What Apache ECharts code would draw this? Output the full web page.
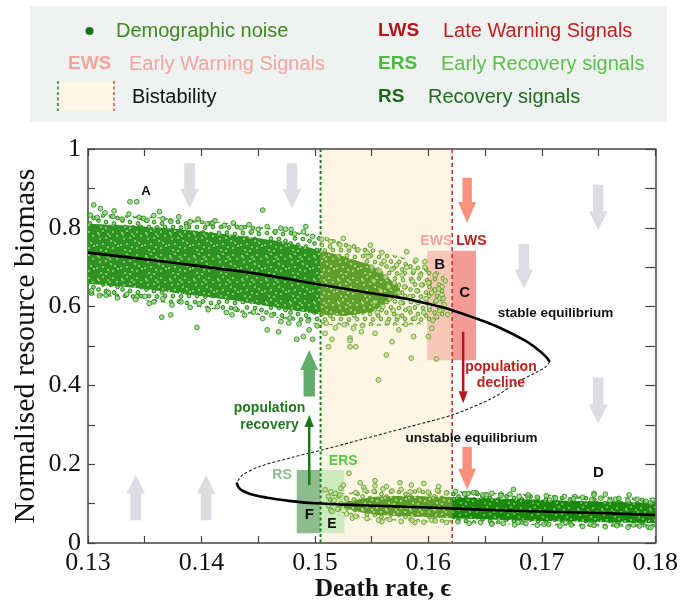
<!DOCTYPE html>
<html><head><meta charset="utf-8">
<script src="https://cdn.jsdelivr.net/npm/echarts@6/dist/echarts.min.js"></script>
<style>html,body{margin:0;padding:0;background:#fff}#c{width:681px;height:612px}</style>
</head><body><div id="c"></div>
<script>
// ---------- data ----------
const xTicks = [0.13, 0.14, 0.15, 0.16, 0.17, 0.18];
const yTicks = [0, 0.2, 0.4, 0.6, 0.8, 1];
const bistability = [0.1505, 0.1621];

const upperStable = [[0.1300,0.737],[0.1350,0.720],[0.1400,0.702],[0.1450,0.683],[0.1500,0.658],[0.1550,0.634],[0.1580,0.620],[0.1600,0.607],[0.1621,0.591],[0.1640,0.572],[0.1660,0.550],[0.1685,0.514],[0.1697,0.490],[0.1704,0.472],[0.1707,0.460]];
const unstableBranch = [[0.1707,0.460],[0.1703,0.446],[0.1695,0.433],[0.1679,0.409],[0.1656,0.367],[0.1621,0.325],[0.1583,0.295],[0.1539,0.261],[0.1506,0.236],[0.1480,0.2175],[0.1451,0.194],[0.1436,0.172],[0.1431,0.153]];
const lowerStable = [[0.1431,0.153],[0.1433,0.140],[0.1438,0.130],[0.1447,0.121],[0.1460,0.114],[0.1477,0.107],[0.1500,0.101],[0.1540,0.096],[0.1580,0.092],[0.1621,0.088],[0.1660,0.083],[0.1700,0.080],[0.1750,0.076],[0.1800,0.071]];

// dense core and looser halo of the noise clouds (envelopes)
const upperCoreX   = [0.1300,0.1340,0.1385,0.1430,0.1470,0.1505,0.1525,0.1550,0.1575];
const upperCoreTop = [0.810, 0.805, 0.796, 0.781, 0.766, 0.743, 0.728, 0.705, 0.650];
const upperCoreBot = [0.658, 0.648, 0.632, 0.615, 0.595, 0.580, 0.576, 0.585, 0.630];
const upperHaloX   = [0.1300,0.1350,0.1400,0.1450,0.1505,0.1550,0.1590,0.1614];
const upperHaloTop = [0.836, 0.829, 0.819, 0.804, 0.780, 0.748, 0.715, 0.680];
const upperHaloBot = [0.630, 0.616, 0.598, 0.578, 0.554, 0.550, 0.554, 0.572];
const lowerCoreX   = [0.1522,0.1540,0.1555,0.1580,0.1621,0.1660,0.1700,0.1750,0.1800];
const lowerCoreTop = [0.100, 0.112, 0.118, 0.120, 0.117, 0.113, 0.110, 0.105, 0.102];
const lowerCoreBot = [0.092, 0.078, 0.071, 0.068, 0.063, 0.059, 0.056, 0.053, 0.050];
const lowerHaloX   = [0.1510,0.1535,0.1550,0.1580,0.1621,0.1660,0.1700,0.1750,0.1800];
const lowerHaloTop = [0.120, 0.130, 0.136, 0.137, 0.133, 0.127, 0.123, 0.118, 0.114];
const lowerHaloBot = [0.088, 0.068, 0.059, 0.055, 0.051, 0.048, 0.045, 0.042, 0.040];

// individual noise points
const upperNoise = [
[0.1305,0.858],[0.1311,0.849],[0.1323,0.843],[0.1337,0.866],[0.1343,0.866],[0.1363,0.841],[0.1454,0.845],[0.1349,0.824],[0.1410,0.813],[0.1387,0.803],[0.1470,0.799],[0.1479,0.796],[0.1492,0.803],[0.1444,0.790],[0.1525,0.773],[0.1549,0.756],
[0.1302,0.832],[0.1308,0.826],[0.1315,0.838],[0.1322,0.829],[0.1330,0.822],[0.1336,0.835],[0.1345,0.827],[0.1352,0.819],[0.1358,0.831],[0.1366,0.823],[0.1373,0.816],[0.1380,0.828],[0.1390,0.815],[0.1397,0.822],[0.1405,0.810],[0.1412,0.818],[0.1420,0.806],[0.1428,0.812],[0.1435,0.800],[0.1442,0.808],[0.1450,0.796],[0.1458,0.803],[0.1465,0.790],[0.1474,0.796],[0.1482,0.784],[0.1490,0.790],[0.1498,0.778],[0.1506,0.771],[0.1514,0.765],[0.1522,0.757],[0.1530,0.750],[0.1538,0.744],[0.1546,0.737],
[0.1303,0.634],[0.1316,0.629],[0.1343,0.625],[0.1365,0.573],[0.1373,0.579],[0.1396,0.547],[0.1354,0.608],[0.1427,0.579],[0.1458,0.541],[0.1468,0.536],[0.1484,0.517],[0.1490,0.524],[0.1498,0.517],[0.1477,0.558],[0.1495,0.541],[0.1509,0.532],[0.1515,0.517],[0.1531,0.520],[0.1531,0.514],[0.1541,0.536],
[0.1303,0.640],[0.1310,0.628],[0.1318,0.636],[0.1326,0.622],[0.1334,0.631],[0.1342,0.618],[0.1350,0.626],[0.1358,0.612],[0.1366,0.620],[0.1374,0.604],[0.1382,0.612],[0.1390,0.598],[0.1398,0.607],[0.1406,0.592],[0.1414,0.600],[0.1422,0.585],[0.1430,0.594],[0.1438,0.578],[0.1446,0.586],[0.1454,0.570],[0.1462,0.578],[0.1470,0.562],[0.1478,0.571],[0.1486,0.556],[0.1494,0.564],[0.1502,0.551],[0.1510,0.558],[0.1518,0.546],[0.1526,0.554],[0.1534,0.545],[0.1542,0.552],
[0.1581,0.739],[0.1559,0.737],[0.1597,0.714],[0.1589,0.718],[0.1547,0.727],[0.1601,0.661],[0.1606,0.642],[0.1612,0.650],[0.1610,0.621],[0.1613,0.621],[0.1612,0.591],[0.1607,0.574],[0.1603,0.545],[0.1600,0.524],[0.1587,0.524],[0.1585,0.469],[0.1563,0.477],[0.1531,0.498],[0.1512,0.498],[0.1536,0.498],[0.1574,0.541],[0.1568,0.511],[0.1553,0.532],[0.1556,0.414],[0.1607,0.467],
[0.1550,0.700],[0.1552,0.665],[0.1553,0.612],[0.1555,0.585],[0.1557,0.690],[0.1558,0.640],[0.1560,0.600],[0.1561,0.715],[0.1562,0.675],[0.1564,0.560],[0.1565,0.650],[0.1566,0.620],[0.1568,0.695],[0.1569,0.590],[0.1570,0.660],[0.1572,0.705],[0.1573,0.575],[0.1574,0.635],[0.1576,0.610],[0.1577,0.680],[0.1579,0.650],[0.1580,0.555],[0.1581,0.700],[0.1583,0.595],[0.1584,0.625],[0.1586,0.665],[0.1587,0.690],[0.1588,0.570],[0.1590,0.640],[0.1591,0.610],[0.1593,0.680],[0.1594,0.655],[0.1596,0.585],[0.1597,0.700],[0.1598,0.620],[0.1600,0.660],[0.1601,0.600],[0.1603,0.635],[0.1604,0.565],[0.1606,0.680],[0.1607,0.615],[0.1609,0.645],[0.1610,0.590],[0.1612,0.630],[0.1614,0.605],[0.1615,0.665],[0.1617,0.580]
];
const lowerNoise = [
[0.1530,0.177],[0.1514,0.130],[0.1518,0.126],[0.1509,0.135],[0.1523,0.139],[0.1525,0.147],[0.1540,0.153],[0.1553,0.158],[0.1553,0.145],[0.1543,0.141],[0.1575,0.153],[0.1585,0.147],[0.1596,0.151],[0.1609,0.143],[0.1563,0.143],
[0.1514,0.084],[0.1515,0.080],[0.1521,0.088],[0.1533,0.063],[0.1559,0.054],[0.1588,0.052],[0.1603,0.058],[0.1635,0.126],[0.1642,0.128],
[0.1675,0.136],[0.1664,0.124],[0.1746,0.126],[0.1746,0.122],[0.1756,0.124],[0.1777,0.122],[0.1729,0.118],[0.1688,0.116],[0.1765,0.111],[0.1651,0.122],[0.1707,0.109],[0.1796,0.102],
[0.1656,0.050],[0.1679,0.052],[0.1702,0.048],[0.1721,0.052],[0.1743,0.047],[0.1764,0.048],[0.1781,0.046],[0.1794,0.040],
[0.1512,0.118],[0.1517,0.108],[0.1522,0.122],[0.1528,0.112],[0.1536,0.128],[0.1544,0.134],[0.1552,0.131],[0.1560,0.137],[0.1568,0.132],[0.1576,0.136],[0.1584,0.130],[0.1592,0.134],[0.1600,0.129],[0.1608,0.133],[0.1616,0.127],[0.1624,0.131],[0.1632,0.125],[0.1640,0.128],[0.1648,0.122],[0.1656,0.126],[0.1664,0.120],[0.1672,0.124],[0.1680,0.118],[0.1688,0.122],[0.1696,0.116],[0.1704,0.120],[0.1712,0.114],[0.1720,0.118],[0.1728,0.112],[0.1736,0.116],[0.1744,0.110],[0.1752,0.114],[0.1760,0.108],[0.1768,0.113],[0.1776,0.107],[0.1784,0.111],[0.1792,0.106],[0.1798,0.109],
[0.1512,0.095],[0.1520,0.086],[0.1528,0.074],[0.1536,0.068],[0.1546,0.062],[0.1556,0.058],[0.1566,0.060],[0.1576,0.055],[0.1586,0.057],[0.1596,0.053],[0.1606,0.056],[0.1616,0.052],[0.1626,0.054],[0.1636,0.050],[0.1646,0.052],[0.1656,0.048],[0.1666,0.050],[0.1676,0.046],[0.1686,0.049],[0.1696,0.045],[0.1706,0.047],[0.1716,0.043],[0.1726,0.046],[0.1736,0.042],[0.1746,0.045],[0.1756,0.041],[0.1766,0.044],[0.1776,0.040],[0.1786,0.043],[0.1796,0.039]
];

// signal boxes [x0, x1, y0, y1]: EWS, LWS, RS, ERS
const signalBoxes = [[0.1599,0.1621,0.464,0.742],[0.1621,0.1642,0.464,0.742],[0.1484,0.1505,0.025,0.185],[0.1505,0.1526,0.025,0.185]];

// arrows [x, yTail, yTip]
const greyArrows = [[0.13895,0.964,0.850],[0.14798,0.964,0.850],[0.17497,0.909,0.794],[0.16842,0.759,0.646],[0.17497,0.420,0.303],[0.13421,0.058,0.173],[0.14041,0.058,0.173]];
const salmonArrows = [[0.16342,0.927,0.812],[0.16342,0.244,0.135]];
const greenBlockArrows = [[0.1495,0.372,0.490]];
const declineArrow = [[0.16307,0.536,0.355]];
const recoveryArrow = [[0.14950,0.147,0.325]];

// annotation text
const annoText = ['A','B','C','D','E','F','EWS','LWS','RS','ERS','stable equilibrium','unstable equilibrium','population','decline','population','recovery'];
const annoPos = [[0.1351,0.893],[0.1610,0.706],[0.1632,0.634],[0.1750,0.178],[0.1515,0.048],[0.1495,0.071],[0.1607,0.767],[0.1638,0.767],[0.1471,0.173],[0.1525,0.208],[0.1712,0.584],[0.1638,0.266],[0.1664,0.447],[0.1664,0.406],[0.1460,0.343],[0.1460,0.300]];

// ---------- styles ----------
const annoColor = ['#111','#111','#111','#111','#111','#111','#f5a39d','#c0201a','#8dbd8d','#56c845','#111','#111','#c0201a','#c0201a','#1e7a1e','#1e7a1e'];
const annoSize = [13,15,15,15,14,15,14,14,14,14,13.5,13.5,14,14,14,14];
const boxColors = ['#f8c7b7','#f29c95','#8fbc8f','#cdeabe'];
const SANS = '"Liberation Sans", Arial, Helvetica, sans-serif';
const SERIF = '"Liberation Serif", "Times New Roman", serif';

// textures used to fill the cloud bands
const speck = [[2,3],[7,1],[12,4],[17,2],[21,6],[4,9],[10,8],[15,11],[19,13],[1,15],[7,14],[12,17],[17,18],[22,16],[5,20],[10,21],[3,4.5],[14,6]];
const rings = [[3,3],[11,2.5],[19,4],[7,8.5],[15,9],[21.5,11],[2.5,13.5],[10,15],[18,16.5],[5,20],[13,20.5],[21,20]];
function makeSpeckle(bg, dot){
  const c = document.createElement('canvas'); c.width = 24; c.height = 23;
  const g = c.getContext('2d'); g.fillStyle = bg; g.fillRect(0,0,24,23);
  g.fillStyle = dot;
  speck.forEach(p => { g.beginPath(); g.arc(p[0], p[1], 1.0, 0, Math.PI*2); g.fill(); });
  return {image:c, repeat:'repeat'};
}
function makeRings(fill, stroke){
  const c = document.createElement('canvas'); c.width = 24; c.height = 23;
  const g = c.getContext('2d');
  g.fillStyle = fill; g.strokeStyle = stroke; g.lineWidth = 1;
  rings.forEach(p => { g.beginPath(); g.arc(p[0], p[1], 1.9, 0, Math.PI*2); g.fill(); g.stroke(); });
  return {image:c, repeat:'repeat'};
}
const patUpper = makeSpeckle('#2f9322', '#9fd58e');
const patBist  = makeSpeckle('#5e9f2c', '#c6dea0');
const patLower = makeSpeckle('#1b8a0c', '#86c777');
const ringUpper = makeRings('#93cd80', '#1f8a10');
const ringBist  = makeRings('#c0da98', '#5c9c22');
const ringLower = makeRings('#86c777', '#1b850c');

const chart = echarts.init(document.getElementById('c'), null, {renderer:'canvas'});
function inBist(x){ return x >= bistability[0]-1e-9 && x <= bistability[1]+1e-9; }

function bandSeries(xs, top, bot, patOut, patIn, z){
  const cuts = [0];
  xs.forEach((x,i)=>{ if (i>0 && i<xs.length-1 && bistability.some(b=>Math.abs(b-x)<1e-7)) cuts.push(i); });
  cuts.push(xs.length-1);
  return {
    type:'custom', z:z, silent:true, data:[[xs[0], top[0]]],
    renderItem:function(params, api){
      const children = [];
      for (let s=0; s<cuts.length-1; s++){
        const i0=cuts[s], i1=cuts[s+1];
        const pts=[];
        for (let i=i0;i<=i1;i++) pts.push(api.coord([xs[i], top[i]]));
        for (let i=i1;i>=i0;i--) pts.push(api.coord([xs[i], bot[i]]));
        const mid=(xs[i0]+xs[i1])/2;
        children.push({type:'polygon', shape:{points:pts}, style:{fill: inBist(mid)?patIn:patOut}});
      }
      return {type:'group', children:children};
    }
  };
}

function blockArrowSeries(list, color, sw, hw, hl, z){
  return {
    type:'custom', z:z, silent:true, data:list, encode:{x:0, y:[1,2]},
    renderItem:function(params, api){
      const T = api.coord([api.value(0), api.value(1)]);
      const P = api.coord([api.value(0), api.value(2)]);
      const dir = P[1] > T[1] ? 1 : -1;
      const yb = P[1] - dir*hl;
      return {type:'polygon', shape:{points:[[T[0]-sw,T[1]],[T[0]+sw,T[1]],[T[0]+sw,yb],[T[0]+hw,yb],[P[0],P[1]],[T[0]-hw,yb],[T[0]-sw,yb]]},
        style:{fill:color}};
    }
  };
}
function lineArrowSeries(list, color, lw, hw, hl, z){
  return {
    type:'custom', z:z, silent:true, data:list, encode:{x:0, y:[1,2]},
    renderItem:function(params, api){
      const T = api.coord([api.value(0), api.value(1)]);
      const P = api.coord([api.value(0), api.value(2)]);
      const dir = P[1] > T[1] ? 1 : -1;
      const yb = P[1] - dir*hl;
      return {type:'group', children:[
        {type:'line', shape:{x1:T[0],y1:T[1],x2:T[0],y2:yb}, style:{stroke:color, lineWidth:lw}},
        {type:'polygon', shape:{points:[[P[0]-hw,yb],[P[0]+hw,yb],[P[0],P[1]]]}, style:{fill:color}}
      ]};
    }
  };
}

function noiseData(list){
  return list.map(p => ({value:p, itemStyle: inBist(p[0]) ?
     {color:'#c0da98', borderColor:'#5c9c22', borderWidth:1} :
     {color:'#93cd80', borderColor:'#1f8a10', borderWidth:1}}));
}

const fmtX = v => { const t = xTicks.find(t => Math.abs(t-v) < 1e-7); return t === undefined ? '' : t.toFixed(2); };
const fmtY = v => { const t = yTicks.find(t => Math.abs(t-v) < 1e-7); return t === undefined ? '' : (t===0?'0':t===1?'1':t.toFixed(1)); };

const axisCol = '#444';
const option = {
  animation:false,
  backgroundColor:'#fff',
  grid:{left:88, right:24, top:149, bottom:69},
  xAxis:[
    {type:'value', min:0.13, max:0.18, interval:0.005, position:'bottom',
     axisLine:{show:true, onZero:false, lineStyle:{color:axisCol, width:1.5}},
     axisTick:{show:true, inside:true, length:7, lineStyle:{color:axisCol, width:1.2}},
     axisLabel:{formatter:fmtX, fontFamily:SERIF, fontSize:26, color:'#111', margin:7, showMinLabel:true, showMaxLabel:true},
     splitLine:{show:false}},
    {type:'value', min:0.13, max:0.18, interval:0.005, position:'top',
     axisLine:{show:true, onZero:false, lineStyle:{color:axisCol, width:1.5}},
     axisTick:{show:true, inside:true, length:7, lineStyle:{color:axisCol, width:1.2}},
     axisLabel:{show:false}, splitLine:{show:false}}
  ],
  yAxis:[
    {type:'value', min:0, max:1, interval:0.1, position:'left',
     axisLine:{show:true, onZero:false, lineStyle:{color:axisCol, width:1.5}},
     axisTick:{show:true, inside:true, length:7, lineStyle:{color:axisCol, width:1.2}},
     axisLabel:{formatter:fmtY, fontFamily:SERIF, fontSize:26, color:'#111', margin:7, showMinLabel:true, showMaxLabel:true},
     splitLine:{show:false}},
    {type:'value', min:0, max:1, interval:0.1, position:'right',
     axisLine:{show:true, onZero:false, lineStyle:{color:axisCol, width:1.5}},
     axisTick:{show:true, inside:true, length:10, lineStyle:{color:axisCol, width:1.2}},
     axisLabel:{show:false}, splitLine:{show:false}}
  ],
  series:[
    {type:'custom', z:0, silent:true, data:[bistability], encode:{x:[0,1]},
     renderItem:function(params, api){
       const p0 = api.coord([api.value(0), 1]), p1 = api.coord([api.value(1), 0]);
       return {type:'rect', shape:{x:p0[0], y:p0[1], width:p1[0]-p0[0], height:p1[1]-p0[1]}, style:{fill:'#fdf6e4'}};
     }},
    {type:'custom', z:1, silent:true, data:signalBoxes.map((b,i)=>[b[0],b[1],b[2],b[3],i]), encode:{x:[0,1], y:[2,3]},
     renderItem:function(params, api){
       const p0 = api.coord([api.value(0), api.value(3)]), p1 = api.coord([api.value(1), api.value(2)]);
       return {type:'rect', shape:{x:p0[0], y:p0[1], width:p1[0]-p0[0], height:p1[1]-p0[1]}, style:{fill:boxColors[api.value(4)]}};
     }},
    {type:'custom', z:2, silent:true, data:bistability.map((x,i)=>[x,i]), encode:{x:0},
     renderItem:function(params, api){
       const p0 = api.coord([api.value(0), 1]), p1 = api.coord([api.value(0), 0]);
       const green = api.value(1) === 0;
       return {type:'line', shape:{x1:p0[0], y1:p0[1], x2:p1[0], y2:p1[1]},
         style:{stroke: green ? '#1b7d1b' : '#cf2a20', lineWidth: green ? 2 : 1.5, lineDash: green ? [3,2.5] : [4,3]}};
     }},
    bandSeries(upperHaloX, upperHaloTop, upperHaloBot, ringUpper, ringBist, 3),
    bandSeries(lowerHaloX, lowerHaloTop, lowerHaloBot, ringLower, ringBist, 3),
    bandSeries(upperCoreX, upperCoreTop, upperCoreBot, patUpper, patBist, 3),
    bandSeries(lowerCoreX, lowerCoreTop, lowerCoreBot, patLower, patBist, 3),
    {type:'scatter', z:4, silent:true, symbol:'circle', symbolSize:4.8, data:noiseData(upperNoise)},
    {type:'scatter', z:4, silent:true, symbol:'circle', symbolSize:4.8, data:noiseData(lowerNoise)},
    {type:'line', z:5, silent:true, data:upperStable, showSymbol:false, smooth:0.3, lineStyle:{color:'#000', width:2.6}},
    {type:'line', z:5, silent:true, data:unstableBranch, showSymbol:false, smooth:0.3, lineStyle:{color:'#222', width:1.1, type:[3,2]}},
    {type:'line', z:5, silent:true, data:lowerStable, showSymbol:false, smooth:0.3, lineStyle:{color:'#000', width:2.6}},
    blockArrowSeries(greyArrows, '#dcdde3', 5.3, 9.3, 19, 6),
    blockArrowSeries(salmonArrows, '#f9917d', 4.7, 9, 21, 6),
    blockArrowSeries(greenBlockArrows, '#62ad6c', 5.7, 9, 20, 6),
    lineArrowSeries(declineArrow, '#b8161a', 2.5, 4.5, 12, 6),
    lineArrowSeries(recoveryArrow, '#1a7a1a', 2.5, 4.7, 12, 6),
    {type:'custom', z:7, silent:true, data:annoPos.map((p,i)=>[p[0],p[1],i]), encode:{x:0, y:1},
     renderItem:function(params, api){
       const c = api.coord([api.value(0), api.value(1)]);
       const i = api.value(2);
       return {type:'text', x:c[0], y:c[1], style:{text:annoText[i], fill:annoColor[i],
         font:'bold '+annoSize[i]+'px '+SANS, align:'center', verticalAlign:'middle', textAlign:'center', textVerticalAlign:'middle'}};
     }}
  ],
  graphic:[
    {type:'rect', shape:{x:30, y:6, width:637, height:116}, style:{fill:'#eef2f1'}, z:-10},
    {type:'circle', shape:{cx:89.5, cy:31, r:4}, style:{fill:'#1f6e1f'}},
    {type:'text', x:116, y:31, style:{text:'Demographic noise', fill:'#3d8a1f', font:'20px '+SANS, verticalAlign:'middle', textVerticalAlign:'middle'}},
    {type:'text', x:68, y:64, style:{text:'EWS', fill:'#f4a39d', font:'bold 19px '+SANS, verticalAlign:'middle', textVerticalAlign:'middle'}},
    {type:'text', x:129, y:64, style:{text:'Early Warning Signals', fill:'#f6a49e', font:'20px '+SANS, verticalAlign:'middle', textVerticalAlign:'middle'}},
    {type:'rect', shape:{x:58, y:81, width:56, height:30}, style:{fill:'#fdf6e6'}},
    {type:'line', shape:{x1:58, y1:81, x2:58, y2:111}, style:{stroke:'#1b7d1b', lineWidth:1.5, lineDash:[3,2.5]}},
    {type:'line', shape:{x1:114, y1:81, x2:114, y2:111}, style:{stroke:'#cf2a20', lineWidth:1.2, lineDash:[3,2.5]}},
    {type:'text', x:132, y:97, style:{text:'Bistability', fill:'#111', font:'20px '+SANS, verticalAlign:'middle', textVerticalAlign:'middle'}},
    {type:'text', x:378, y:31, style:{text:'LWS', fill:'#b5141a', font:'bold 19px '+SANS, verticalAlign:'middle', textVerticalAlign:'middle'}},
    {type:'text', x:443, y:31, style:{text:'Late Warning Signals', fill:'#c0201e', font:'20px '+SANS, verticalAlign:'middle', textVerticalAlign:'middle'}},
    {type:'text', x:378, y:64, style:{text:'ERS', fill:'#4cba3c', font:'bold 19px '+SANS, verticalAlign:'middle', textVerticalAlign:'middle'}},
    {type:'text', x:441, y:64, style:{text:'Early Recovery signals', fill:'#5cc04a', font:'20px '+SANS, verticalAlign:'middle', textVerticalAlign:'middle'}},
    {type:'text', x:378, y:97, style:{text:'RS', fill:'#1d6a1d', font:'bold 19px '+SANS, verticalAlign:'middle', textVerticalAlign:'middle'}},
    {type:'text', x:428, y:97, style:{text:'Recovery signals', fill:'#1f6a1f', font:'20px '+SANS, verticalAlign:'middle', textVerticalAlign:'middle'}},
    {type:'text', x:383, y:590, style:{text:'Death rate, \u03f5', fill:'#111', font:'bold 25px '+SERIF, align:'center', verticalAlign:'middle', textAlign:'center', textVerticalAlign:'middle'}},
    {type:'text', x:26, y:346, rotation:Math.PI/2, style:{text:'Normalised resource biomass', fill:'#111', font:'30px '+SERIF, align:'center', verticalAlign:'middle', textAlign:'center', textVerticalAlign:'middle'}}
  ]
};
chart.setOption(option);
</script>
</body></html>
